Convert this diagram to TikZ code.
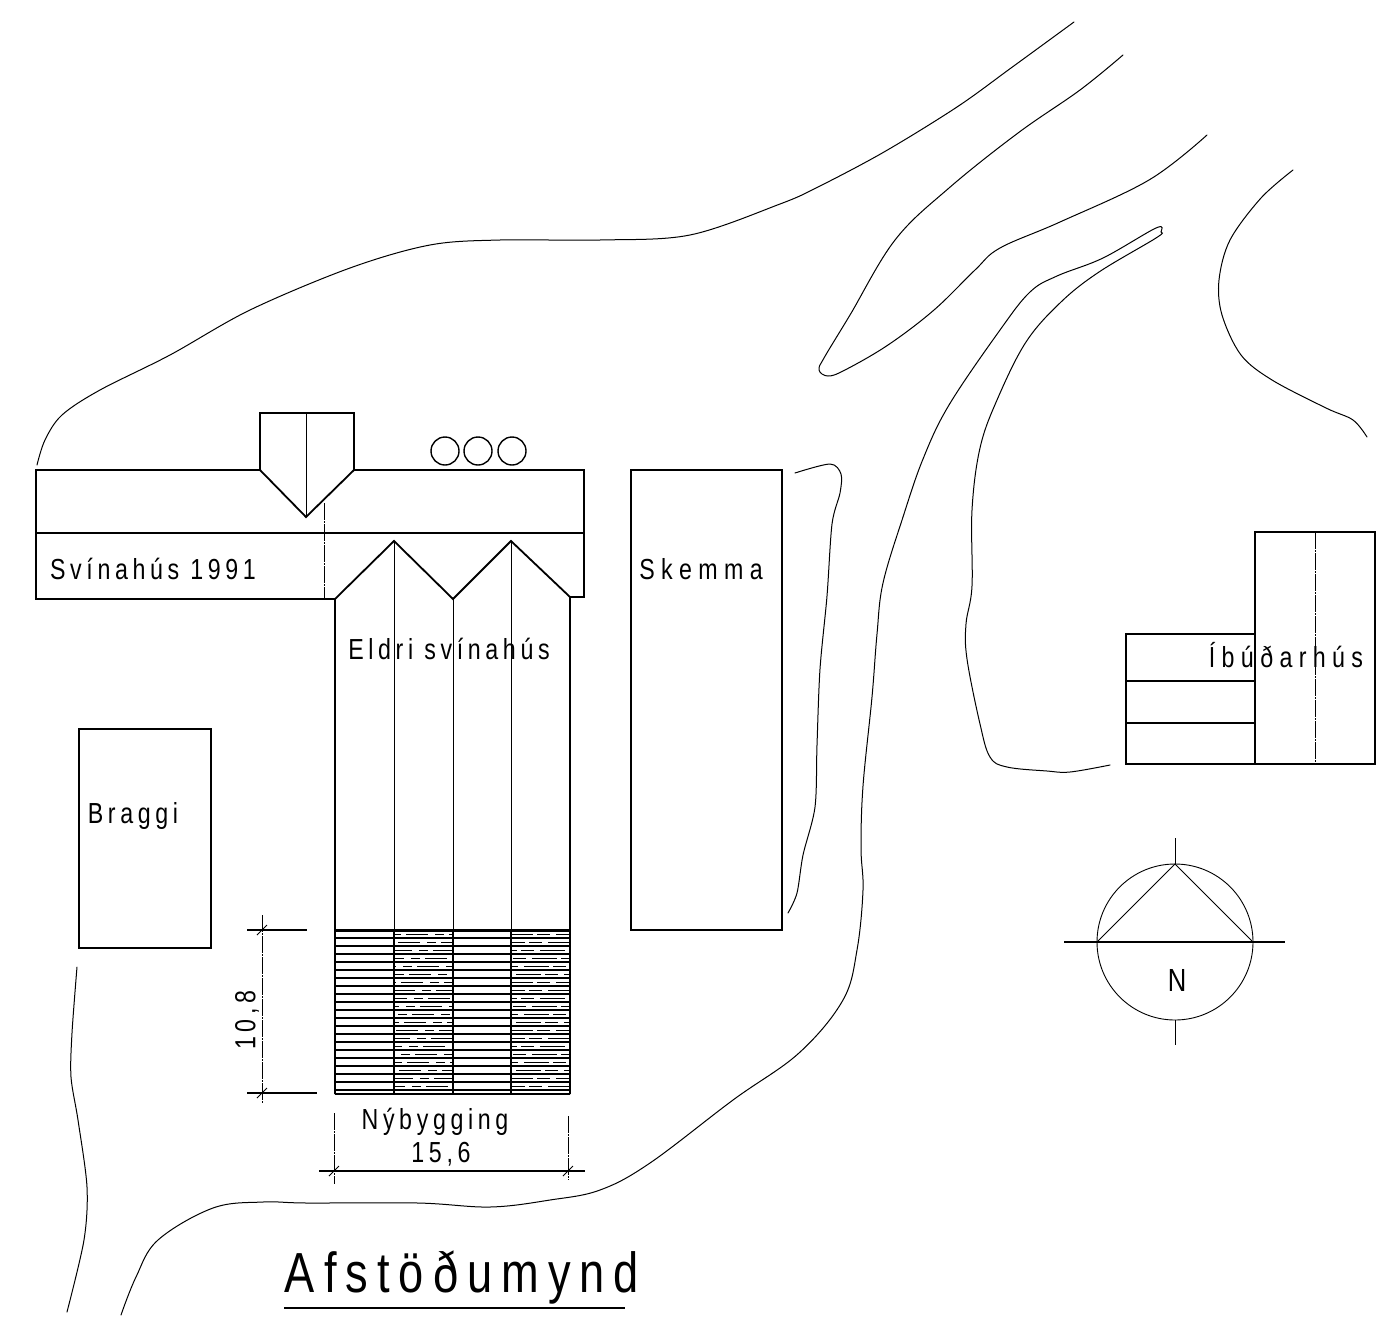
\documentclass[tikz,border=0pt]{standalone}
\usepackage{fontspec}
\newfontfamily\drawfont[FakeStretch=0.8,LetterSpace=16]{Liberation Sans}
\newfontfamily\widefont[FakeStretch=0.8,LetterSpace=22]{Liberation Sans}
\usetikzlibrary{positioning}

\begin{document}
\begin{tikzpicture}[x=1pt,y=-1pt]
	\tikzstyle{wall}=[line width=1.8pt, line join=miter]
	\tikzstyle{thin}=[line width=0.9pt]
	\tikzstyle{dashline}=[line width=0.9pt, dash pattern=on 17pt off 1pt on 2pt off 1pt]
	\tikzstyle{terrain}=[line width=1pt, line cap=round]
	\tikzstyle{label}=[inner sep=0pt, font=\drawfont\fontsize{29}{32}\selectfont]
	\useasboundingbox (0,0) rectangle (1386,1317);

	% terrain
	\draw[terrain] plot[smooth, tension=0.55] coordinates {(37,465) (45,440) (62,415) (100,390) (170,355) (250,310) (350,268) (430,245) (500,240) (600,240) (690,235) (780,204) (818,187) (884,152) (957,107) (1011,68) (1074,22)};
	\draw[terrain] plot[smooth, tension=0.6] coordinates {(1123,55) (1080,90) (1018,133) (949,188) (895,240) (850,315) (824,358) (819,370) (828,376) (845,370) (888,345) (934,310) (975,270) (1000,248) (1060,222) (1149,180) (1207,135)};
	\draw[terrain] plot[smooth, tension=0.6] coordinates {(1110,765) (1070,772) (1047,771) (1007,767) (990,757) (980,724) (967,659) (966,624) (972,586) (972,510) (980,448) (997,400) (1026,342) (1061,302) (1099,272) (1156,238) (1161,232) (1156,228) (1103,258) (1057,276) (1030,292) (1000,330) (949,405) (923,459) (903,517) (883,583) (877,634) (872,697) (863,786) (861,848) (863,890) (857,950) (843,1000) (799,1053) (733,1100) (650,1163) (600,1190) (550,1200) (490,1207) (418,1203) (307,1203) (263,1202) (213,1208) (158,1240) (136,1277) (121,1315)};
	\draw[terrain] plot[smooth, tension=0.5] coordinates {(795,473) (830,464) (841,474) (840,493) (832,524) (827,596) (820,669) (817,745) (815,807) (803,855) (797,893) (788,913)};
	\draw[terrain] plot[smooth, tension=0.55] coordinates {(1293,170) (1261,198) (1230,240) (1219,280) (1222,315) (1241,355) (1272,380) (1326,408) (1353,420) (1367,437)};
	\draw[terrain] plot[smooth, tension=0.5] coordinates {(77,967) (72,1033) (71,1077) (78,1120) (87,1187) (84,1240) (67,1312)};

	% Svinahus 1991
	\draw[wall] (260,470) -- (36,470) -- (36,599) -- (335,599);
	\draw[wall] (354,470) -- (584,470) -- (584,597) -- (570,597);
	\draw[wall] (36,533) -- (584,533);
	\draw[wall] (260,470) -- (260,413) -- (354,413) -- (354,470) -- (306,517) -- cycle;
	\draw[thin] (306,413) -- (306,517);
	\draw[dashline] (324,503) -- (324,599);
	\foreach \cx in {445,478,512}
		\draw[thin, line width=1.4pt] (\cx,451) circle (14);

	% Eldri svinahus
	\draw[wall] (335,1094) -- (335,599) -- (394,541) -- (453,599) -- (511,541) -- (570,597) -- (570,1094);
	\draw[thin] (394,541) -- (394,930);
	\draw[thin] (453,599) -- (453,930);
	\draw[thin] (511,541) -- (511,930);

	% Nybygging
	\foreach \hy in {938,946,...,1090}
		\draw[line width=1.3pt] (335,\hy) -- (570,\hy);
	\foreach \hy in {934,942,...,1086} {
		\draw[line width=0.8pt, dash pattern=on 22pt off 7pt on 9pt off 5pt, dash phase=\hy pt] (394,\hy) -- (453,\hy);
		\draw[line width=0.8pt, dash pattern=on 13pt off 6pt on 25pt off 4pt, dash phase=\hy pt] (511,\hy) -- (570,\hy);
	}
	\draw[line width=3pt] (335,930) -- (570,930);
	\draw[wall] (335,1094) -- (570,1094);
	\foreach \hx in {394,453,511}
		\draw[wall] (\hx,930) -- (\hx,1094);

	% dimensions
	\draw[dashline] (262,915) -- (262,1103);
	\draw[wall] (247,930) -- (307,930);
	\draw[wall] (247,1093) -- (317,1093);
	\draw[thin] (257,935) -- (267,925);
	\draw[thin] (257,1098) -- (267,1088);
	\draw[wall] (319,1171) -- (585,1171);
	\draw[dashline] (334,1113) -- (334,1184);
	\draw[dashline] (568,1116) -- (568,1180);
	\draw[thin] (329,1176) -- (339,1166);
	\draw[thin] (563,1176) -- (573,1166);

	% other buildings
	\draw[wall] (631,470) rectangle (782,930);
	\draw[wall] (79,729) rectangle (211,948);
	\draw[wall] (1255,532) rectangle (1375,764);
	\draw[dashline] (1315,532) -- (1315,764);
	\draw[wall] (1255,634) -- (1126,634) -- (1126,764) -- (1255,764);
	\draw[wall] (1126,681) -- (1255,681);
	\draw[wall] (1126,723) -- (1255,723);

	% north sign
	\draw[thin] (1175,942) circle (78);
	\draw[wall] (1064,942) -- (1285,942);
	\draw[thin] (1175,838) -- (1175,864);
	\draw[thin] (1175,1020) -- (1175,1045);
	\draw[thin] (1097,942) -- (1175,864) -- (1253,942);

	\node[label] (svinLabel) at (153,569) {Svínahús 1991};
	\node[label, font=\widefont\fontsize{29}{32}\selectfont] (skemmaLabel) at (701,569) {Skemma};
	\node[label] (eldriLabel) at (449,649) {Eldri svínahús};
	\node[label] (braggiLabel) at (133,816) {Braggi};
	\node[label, font=\widefont\fontsize{29}{32}\selectfont] (ibudLabel) at (1286,655) {Íbúðarhús};
	\node[label] (nyLabel) at (435,1122) {Nýbygging};
	\node[label] (breiddLabel) at (441,1154) {15,6};
	\node[label, rotate=90] (lengdLabel) at (247,1020) {10,8};
	\node[label, font=\drawfont\fontsize{32}{34}\selectfont] (northLabel) at (1177,980) {N};
	\node[label, font=\drawfont\fontsize{56.5}{60}\selectfont] (titleLabel) at (462,1277) {Afstöðumynd};
	\draw[wall] (284,1308) -- (625,1308);
\end{tikzpicture}
\end{document}
